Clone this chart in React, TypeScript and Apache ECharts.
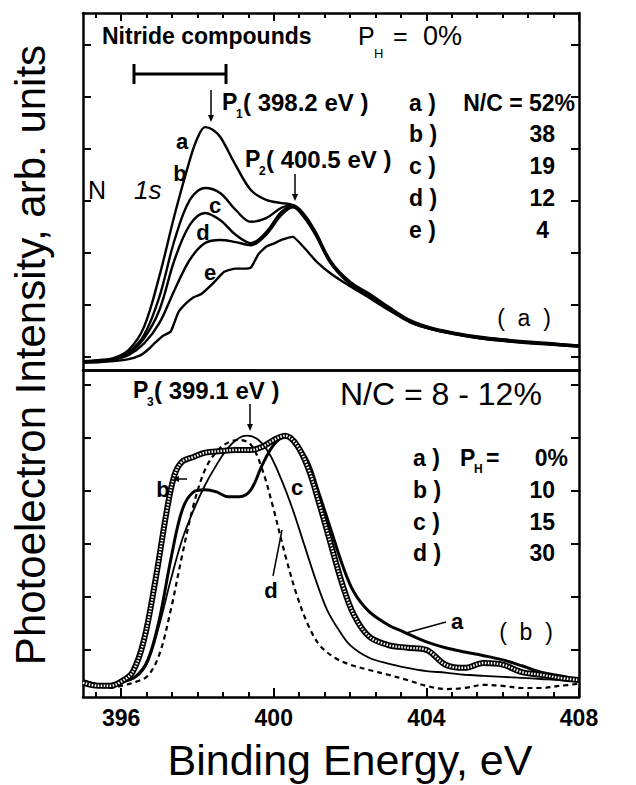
import React, { useEffect, useRef } from "react";
import * as echarts from "echarts";

const FONT = "'Liberation Sans', Arial, Helvetica, sans-serif";

// ---------- Panel (a): P_H = 0%, different N/C ----------
const energyTop = [395.0, 395.4, 395.8, 396.2, 396.6, 397.0, 397.4, 397.8, 398.2, 398.6, 399.0, 399.4, 399.8, 400.2, 400.5, 400.8, 401.1, 401.5, 402.0, 402.5, 403.0, 403.6, 404.2, 404.8, 405.4, 406.0, 406.6, 407.2, 407.6, 408.0];
const energyTopA = [395.0, 395.4, 395.8, 396.2, 396.6, 397.0, 397.4, 397.8, 398.0, 398.2, 398.4, 398.6, 399.0, 399.4, 399.8, 400.2, 400.5, 400.8, 401.1, 401.5, 402.0, 402.5, 403.0, 403.6, 404.2, 404.8, 405.4, 406.0, 406.6, 407.2, 407.6, 408.0];
const intensA52 = [-0.08, -0.06, -0.02, 0.14, 0.58, 1.55, 2.73, 3.79, 4.21, 4.42, 4.37, 4.23, 3.69, 3.21, 3.02, 2.96, 2.92, 2.72, 2.36, 1.80, 1.42, 1.20, 0.95, 0.68, 0.54, 0.45, 0.38, 0.33, 0.29, 0.26, 0.24, 0.22];
const intensB38 = [-0.09, -0.07, -0.03, 0.10, 0.42, 1.15, 2.25, 3.02, 3.25, 3.15, 2.83, 2.60, 2.67, 2.87, 2.92, 2.74, 2.40, 1.84, 1.45, 1.22, 0.97, 0.70, 0.55, 0.46, 0.39, 0.34, 0.30, 0.27, 0.24, 0.22];
const intensC19 = [-0.09, -0.07, -0.04, 0.07, 0.36, 0.90, 1.87, 2.54, 2.77, 2.63, 2.35, 2.19, 2.40, 2.79, 2.90, 2.70, 2.38, 1.82, 1.43, 1.19, 0.94, 0.67, 0.53, 0.44, 0.37, 0.32, 0.28, 0.25, 0.23, 0.21];
const intensD12 = [-0.10, -0.08, -0.05, 0.04, 0.26, 0.65, 1.29, 1.87, 2.19, 2.25, 2.21, 2.15, 2.35, 2.73, 2.88, 2.68, 2.34, 1.79, 1.40, 1.17, 0.92, 0.66, 0.52, 0.43, 0.36, 0.31, 0.28, 0.25, 0.22, 0.20];
const energyTopE = [395.0, 395.4, 395.8, 396.2, 396.5, 396.7, 396.9, 397.1, 397.3, 397.5, 397.7, 397.9, 398.1, 398.4, 398.7, 399.0, 399.2, 399.4, 399.6, 399.8, 400.0, 400.2, 400.5, 400.8, 401.1, 401.5, 402.0, 402.5, 403.0, 403.6, 404.2, 404.8, 405.4, 406.0, 406.6, 407.2, 407.6, 408.0];
const intensE4 = [-0.11, -0.10, -0.08, -0.04, 0.03, 0.14, 0.28, 0.41, 0.49, 0.86, 1.03, 1.15, 1.21, 1.41, 1.64, 1.70, 1.70, 1.72, 1.98, 2.12, 2.18, 2.25, 2.31, 2.10, 1.85, 1.60, 1.36, 1.14, 0.91, 0.66, 0.52, 0.43, 0.36, 0.31, 0.27, 0.24, 0.22, 0.20];

// ---------- Panel (b): N/C = 8-12%, different P_H ----------
const energyBotA = [395.0, 395.4, 395.7, 396.0, 396.4, 396.7, 397.0, 397.3, 397.6, 397.9, 398.2, 398.5, 398.8, 399.1, 399.4, 399.7, 400.0, 400.3, 400.6, 400.9, 401.2, 401.5, 401.8, 402.1, 402.5, 403.0, 403.4, 404.0, 404.5, 405.0, 405.5, 406.0, 406.5, 407.0, 407.5, 408.0];
const intensPH0 = [-0.58, -0.66, -0.70, -0.62, -0.49, -0.19, 0.57, 1.70, 2.64, 2.98, 3.02, 2.98, 2.89, 2.89, 3.02, 3.49, 3.87, 4.02, 3.87, 3.55, 2.92, 2.26, 1.60, 1.09, 0.72, 0.47, 0.34, 0.15, 0.04, -0.04, -0.11, -0.19, -0.30, -0.42, -0.49, -0.57];
const energyBotB = [395.0, 395.4, 395.7, 396.0, 396.3, 396.6, 396.9, 397.2, 397.4, 397.6, 397.9, 398.2, 398.6, 399.0, 399.4, 399.7, 400.0, 400.3, 400.6, 400.9, 401.2, 401.5, 401.8, 402.1, 402.5, 403.0, 403.5, 404.0, 404.5, 405.0, 405.5, 406.0, 406.5, 407.0, 407.5, 408.0];
const intensPH10 = [-0.62, -0.68, -0.68, -0.60, -0.42, 0.19, 1.32, 2.64, 3.30, 3.55, 3.64, 3.72, 3.75, 3.77, 3.77, 3.83, 3.96, 4.04, 3.87, 3.43, 2.74, 1.98, 1.23, 0.66, 0.25, 0.09, 0.04, 0.00, -0.28, -0.34, -0.25, -0.28, -0.42, -0.47, -0.53, -0.57];
const energyBotC = [395.0, 395.4, 395.7, 396.0, 396.4, 396.7, 397.0, 397.3, 397.6, 397.9, 398.2, 398.5, 398.8, 399.1, 399.3, 399.6, 399.9, 400.2, 400.5, 400.8, 401.1, 401.4, 401.7, 402.0, 402.5, 403.0, 403.5, 404.0, 404.5, 405.0, 405.5, 406.0, 406.5, 407.0, 407.5, 408.0];
const intensPH15 = [-0.57, -0.66, -0.68, -0.62, -0.51, -0.23, 0.47, 1.32, 2.08, 2.64, 3.11, 3.49, 3.81, 4.00, 4.04, 3.96, 3.68, 3.21, 2.64, 1.98, 1.32, 0.75, 0.38, 0.09, -0.15, -0.26, -0.34, -0.40, -0.43, -0.47, -0.49, -0.51, -0.53, -0.55, -0.57, -0.58];
const energyBotD = [395.0, 395.4, 395.7, 396.0, 396.4, 396.7, 397.0, 397.3, 397.6, 397.9, 398.2, 398.5, 398.8, 399.1, 399.4, 399.7, 400.0, 400.3, 400.6, 400.9, 401.2, 401.6, 402.0, 402.5, 403.0, 403.5, 404.0, 404.5, 405.0, 405.5, 406.0, 406.5, 407.0, 407.5, 408.0];
const intensPH30 = [-0.60, -0.68, -0.72, -0.68, -0.60, -0.49, -0.09, 0.75, 1.79, 2.74, 3.40, 3.74, 3.91, 3.96, 3.87, 3.40, 2.64, 1.79, 1.04, 0.47, 0.09, -0.15, -0.28, -0.38, -0.47, -0.57, -0.68, -0.74, -0.72, -0.66, -0.68, -0.72, -0.72, -0.68, -0.64];

// ---------- Axes ----------
const xMin = 395;
const xMax = 408;
const xMajorTicks = [396, 400, 404, 408];
const xMinorTicks = [395.333, 396.667, 397.333, 398, 398.667, 399.333, 400.667, 401.333, 402, 402.667, 403.333, 404.667, 405.333, 406, 406.667, 407.333];
const yTopRange = [-0.25, 6.615];
const yTopTicks = [0, 1, 2, 3, 4, 5, 6];
const yBotRange = [-0.89, 5.28];
const yBotTicks = [0, 1, 2, 3, 4, 5];

const zip = (xs: number[], ys: number[]) => xs.map((x, i) => [x, ys[i]]);

export default function App() {
  const ref = useRef<HTMLDivElement>(null);
  useEffect(() => {
    if (!ref.current) return;
    const chart = echarts.init(ref.current, null, { renderer: "svg" });
    const axisLine = { show: true, onZero: false, lineStyle: { color: "#000", width: 2.5 } };
    const noLabel = { show: false };
    const xBase = { type: "value", min: xMin, max: xMax, splitLine: { show: false } };
    const yBase = { type: "value", splitLine: { show: false }, axisLabel: noLabel };

    const line = (name: string, data: number[][], xi: number, yi: number, extra: any = {}) => ({
      name,
      type: "line",
      xAxisIndex: xi,
      yAxisIndex: yi,
      data,
      showSymbol: false,
      smooth: 0.35,
      lineStyle: { color: "#000", width: 2.4 },
      z: 3,
      ...extra,
    });

    const txt = (x: number, y: number, text: string, size: number, opts: any = {}) => ({
      type: "text",
      x,
      y,
      style: {
        text,
        fontFamily: FONT,
        fontSize: size,
        fontWeight: opts.bold ? "bold" : "normal",
        fontStyle: opts.italic ? "italic" : "normal",
        fill: "#000",
        align: opts.align || "left",
        verticalAlign: "middle",
      },
      z: 10,
    });
    const arrowDown = (x: number, y1: number, y2: number) => [
      { type: "line", shape: { x1: x, y1, x2: x, y2: y2 - 5 }, style: { stroke: "#000", lineWidth: 1.5 }, z: 10 },
      { type: "polygon", shape: { points: [[x - 3, y2 - 7], [x + 3, y2 - 7], [x, y2]] }, style: { fill: "#000" }, z: 10 },
    ];
    const peakLabel = (x: number, y: number, sub: string, rest: string) => [
      txt(x, y, "P", 23, { bold: true }),
      txt(x + 14, y + 12, sub, 12, { bold: true }),
      txt(x + 21, y, rest, 24, { bold: true }),
    ];

    const option: any = {
      animation: false,
      backgroundColor: "#fff",
      grid: [
        { left: 83, top: 13, width: 496, height: 357 },
        { left: 83, top: 370, width: 496, height: 327 },
      ],
      xAxis: [
        { ...xBase, gridIndex: 0, position: "bottom", axisLine, axisTick: { show: false }, axisLabel: noLabel },
        { ...xBase, gridIndex: 0, position: "top", axisLine, axisTick: { show: true, inside: true, length: 8, lineStyle: { width: 2 }, customValues: xMajorTicks }, axisLabel: noLabel },
        { ...xBase, gridIndex: 0, position: "top", axisLine: { show: false, onZero: false }, axisTick: { show: true, inside: true, length: 5, lineStyle: { width: 2, color: "#000" }, customValues: xMinorTicks }, axisLabel: noLabel },
        { ...xBase, gridIndex: 1, position: "bottom", axisLine, axisTick: { show: true, inside: true, length: 9, lineStyle: { width: 2 }, customValues: xMajorTicks },
          axisLabel: { show: true, customValues: xMajorTicks, color: "#000", fontFamily: FONT, fontWeight: "bold", fontSize: 23, margin: 9 } },
        { ...xBase, gridIndex: 1, position: "bottom", axisLine: { show: false, onZero: false }, axisTick: { show: true, inside: true, length: 5, lineStyle: { width: 2, color: "#000" }, customValues: xMinorTicks }, axisLabel: noLabel },
        { ...xBase, gridIndex: 1, position: "top", axisLine, axisTick: { show: false }, axisLabel: noLabel },
      ],
      yAxis: [
        { ...yBase, gridIndex: 0, position: "left", min: yTopRange[0], max: yTopRange[1], axisLine, axisTick: { show: true, inside: true, length: 8, lineStyle: { width: 2 }, customValues: yTopTicks } },
        { ...yBase, gridIndex: 0, position: "right", min: yTopRange[0], max: yTopRange[1], axisLine, axisTick: { show: true, inside: true, length: 8, lineStyle: { width: 2 }, customValues: yTopTicks } },
        { ...yBase, gridIndex: 1, position: "left", min: yBotRange[0], max: yBotRange[1], axisLine, axisTick: { show: true, inside: true, length: 8, lineStyle: { width: 2 }, customValues: yBotTicks } },
        { ...yBase, gridIndex: 1, position: "right", min: yBotRange[0], max: yBotRange[1], axisLine, axisTick: { show: true, inside: true, length: 8, lineStyle: { width: 2 }, customValues: yBotTicks } },
      ],
      series: [
        line("a) N/C = 52%", zip(energyTopA, intensA52), 0, 0),
        line("b) N/C = 38%", zip(energyTop, intensB38), 0, 0),
        line("c) N/C = 19%", zip(energyTop, intensC19), 0, 0),
        line("d) N/C = 12%", zip(energyTop, intensD12), 0, 0),
        line("e) N/C = 4%", zip(energyTopE, intensE4), 0, 0, { smooth: 0.15 }),
        line("a) P_H = 0%", zip(energyBotA, intensPH0), 3, 2, { lineStyle: { color: "#000", width: 3 } }),
        line("b) P_H = 10%", zip(energyBotB, intensPH10), 3, 2, { lineStyle: { color: "#000", width: 6 }, z: 4 }),
        line("b) P_H = 10% hatch", zip(energyBotB, intensPH10), 3, 2, { lineStyle: { color: "#fff", width: 2.5, type: [1.5, 1.5] }, z: 5 }),
        line("c) P_H = 15%", zip(energyBotC, intensPH15), 3, 2, { lineStyle: { color: "#000", width: 1.8 } }),
        line("d) P_H = 30%", zip(energyBotD, intensPH30), 3, 2, { lineStyle: { color: "#000", width: 2.2, type: [5, 4] } }),
      ],
      graphic: [
        { type: "text", x: 30, y: 355, rotation: Math.PI / 2, style: { text: "Photoelectron Intensity, arb. units", fontFamily: FONT, fontSize: 42, fill: "#000", align: "center", verticalAlign: "middle" } },
        txt(350, 760, "Binding Energy, eV", 43, { align: "center" }),
        // panel a annotations
        txt(102, 36, "Nitride compounds", 23, { bold: true }),
        { type: "line", shape: { x1: 134, y1: 74, x2: 226, y2: 74 }, style: { stroke: "#000", lineWidth: 3 }, z: 10 },
        { type: "line", shape: { x1: 134, y1: 64, x2: 134, y2: 84 }, style: { stroke: "#000", lineWidth: 3 }, z: 10 },
        { type: "line", shape: { x1: 226, y1: 64, x2: 226, y2: 84 }, style: { stroke: "#000", lineWidth: 3 }, z: 10 },
        txt(358, 36, "P", 25),
        txt(374, 53, "H", 13),
        txt(393, 36, "=", 25),
        txt(423, 36, "0%", 27),
        ...arrowDown(211, 90, 122),
        ...peakLabel(222, 102, "1", "( 398.2 eV )"),
        ...arrowDown(295, 174, 201),
        ...peakLabel(245, 159, "2", "( 400.5 eV )"),
        txt(88, 190, "N", 25),
        txt(134, 190, "1s", 26, { italic: true }),
        txt(182, 141, "a", 22, { bold: true, align: "center" }),
        txt(180, 173, "b", 22, { bold: true, align: "center" }),
        txt(215, 205, "c", 22, { bold: true, align: "center" }),
        txt(203, 232, "d", 22, { bold: true, align: "center" }),
        txt(210, 272, "e", 22, { bold: true, align: "center" }),
        txt(409, 103, "a )", 23, { bold: true }),
        txt(575, 103, "N/C = 52%", 23, { bold: true, align: "right" }),
        txt(409, 134, "b )", 23, { bold: true }),
        txt(409, 166, "c )", 23, { bold: true }),
        txt(409, 198, "d )", 23, { bold: true }),
        txt(409, 230, "e )", 23, { bold: true }),
        txt(555, 134, "38", 23, { bold: true, align: "right" }),
        txt(555, 166, "19", 23, { bold: true, align: "right" }),
        txt(555, 198, "12", 23, { bold: true, align: "right" }),
        txt(549, 230, "4", 23, { bold: true, align: "right" }),
        txt(524, 318, "(  a  )", 23, { align: "center" }),
        // panel b annotations
        ...peakLabel(133, 390, "3", "( 399.1 eV )"),
        ...arrowDown(250, 404, 431),
        txt(340, 394, "N/C = 8 - 12%", 32),
        txt(413, 458, "a )", 23, { bold: true }),
        txt(460, 458, "P", 23, { bold: true }),
        txt(474, 469, "H", 12, { bold: true }),
        txt(486, 458, "=", 23, { bold: true }),
        txt(568, 458, "0%", 23, { bold: true, align: "right" }),
        txt(413, 490, "b )", 23, { bold: true }),
        txt(413, 522, "c )", 23, { bold: true }),
        txt(413, 553, "d )", 23, { bold: true }),
        txt(555, 490, "10", 23, { bold: true, align: "right" }),
        txt(555, 522, "15", 23, { bold: true, align: "right" }),
        txt(555, 553, "30", 23, { bold: true, align: "right" }),
        txt(163, 489, "b", 22, { bold: true, align: "center" }),
        { type: "line", shape: { x1: 187, y1: 479, x2: 178, y2: 479 }, style: { stroke: "#000", lineWidth: 1.5 }, z: 10 },
        { type: "polygon", shape: { points: [[173, 479], [179, 476], [179, 482]] }, style: { fill: "#000" }, z: 10 },
        txt(297, 487, "c", 22, { bold: true, align: "center" }),
        txt(271, 590, "d", 22, { bold: true, align: "center" }),
        { type: "line", shape: { x1: 273, y1: 576, x2: 282, y2: 530 }, style: { stroke: "#000", lineWidth: 1.5 }, z: 10 },
        txt(457, 621, "a", 22, { bold: true, align: "center" }),
        { type: "line", shape: { x1: 446, y1: 622, x2: 406, y2: 633 }, style: { stroke: "#000", lineWidth: 1.5 }, z: 10 },
        txt(526, 632, "(  b  )", 23, { align: "center" }),
      ],
    };
    chart.setOption(option);
    return () => chart.dispose();
  }, []);
  return <div ref={ref} style={{ width: 636, height: 785, position: "absolute", left: 0, top: 0, background: "#fff" }} />;
}
